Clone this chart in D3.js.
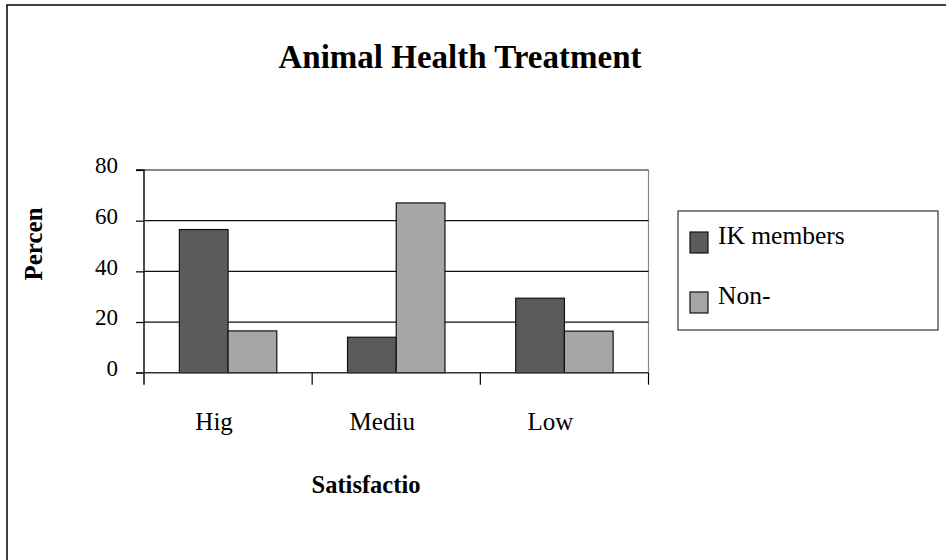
<!DOCTYPE html>
<html>
<head>
<meta charset="utf-8">
<script src="https://cdn.jsdelivr.net/npm/d3@7/dist/d3.min.js"></script>
<style>
  html, body { margin: 0; padding: 0; background: #fff; }
  svg { display: block; font-family: "Liberation Serif", "Times New Roman", serif; }
</style>
</head>
<body>
<svg id="chart" width="946" height="560"></svg>
<script>
// Satisfaction with animal health treatment, percent of respondents
const categories = ["Hig", "Mediu", "Low"];
const seriesNames = ["IK members", "Non-"];
const ikMembers = [56.5, 14, 29.4];
const nonMembers = [16.5, 67, 16.4];
const yTicks = [0, 20, 40, 60, 80];

const colors = ["#5b5b5b", "#a6a6a6"];
const series = [ikMembers, nonMembers];

const svg = d3.select("#chart");

// outer chart frame (right and bottom edges fall outside the view)
svg.append("rect")
  .attr("x", 7).attr("y", 5)
  .attr("width", 1000).attr("height", 600)
  .attr("fill", "#fff")
  .attr("stroke", "#000").attr("stroke-width", 1.5);

const plot = { left: 144, right: 648.5, top: 170, bottom: 372.7 };

const x = d3.scaleBand()
  .domain(categories)
  .range([plot.left, plot.right])
  .padding(0);

const xInner = d3.scaleBand()
  .domain(seriesNames)
  .range([0, x.bandwidth()])
  .paddingInner(0)
  .paddingOuter(0.726);

const y = d3.scaleLinear()
  .domain([0, 80])
  .range([plot.bottom, plot.top]);

// right edge of the plot area
svg.append("line")
  .attr("x1", plot.right).attr("x2", plot.right)
  .attr("y1", plot.top).attr("y2", plot.bottom)
  .attr("stroke", "#888").attr("stroke-width", 1.2);

// horizontal gridlines
svg.append("g")
  .selectAll("line")
  .data(yTicks.filter(d => d > 0))
  .join("line")
  .attr("x1", plot.left).attr("x2", plot.right)
  .attr("y1", d => y(d)).attr("y2", d => y(d))
  .attr("stroke", "#111").attr("stroke-width", 1.2);

// bars
const groups = svg.append("g")
  .selectAll("g")
  .data(categories)
  .join("g")
  .attr("transform", d => `translate(${x(d)},0)`);

groups.selectAll("rect")
  .data((c, i) => seriesNames.map((s, j) => ({ s, j, v: series[j][i] })))
  .join("rect")
  .attr("x", d => xInner(d.s))
  .attr("width", xInner.bandwidth())
  .attr("y", d => y(d.v))
  .attr("height", d => y(0) - y(d.v))
  .attr("fill", d => colors[d.j])
  .attr("stroke", "#111").attr("stroke-width", 1.2);

// y axis
const yAxis = d3.axisLeft(y)
  .tickValues(yTicks)
  .tickSize(8)
  .tickPadding(18)
  .tickFormat(d3.format("d"));

const gy = svg.append("g")
  .attr("transform", `translate(${plot.left},0)`)
  .call(yAxis);
gy.select(".domain").attr("stroke", "#000").attr("stroke-width", 1.4)
  .attr("d", `M-8,${plot.top}H0V${plot.bottom + 12}`);
gy.selectAll(".tick line").attr("stroke", "#000").attr("stroke-width", 1.2);
gy.selectAll(".tick text")
  .attr("font-family", "Liberation Serif, serif")
  .attr("font-size", 23)
  .attr("fill", "#000")
  .attr("dy", "0.12em");

// x axis baseline and category separators
svg.append("line")
  .attr("x1", plot.left - 8).attr("x2", plot.right)
  .attr("y1", plot.bottom).attr("y2", plot.bottom)
  .attr("stroke", "#333").attr("stroke-width", 1.4);

const separators = categories.map(c => x(c)).concat([plot.right]);
svg.append("g")
  .selectAll("line")
  .data(separators.slice(1))
  .join("line")
  .attr("x1", d => d).attr("x2", d => d)
  .attr("y1", plot.bottom).attr("y2", plot.bottom + 12)
  .attr("stroke", "#000").attr("stroke-width", 1.2);

// category labels
svg.append("g")
  .selectAll("text")
  .data(categories)
  .join("text")
  .attr("x", d => x(d) + x.bandwidth() / 2 - 14)
  .attr("y", 430)
  .attr("text-anchor", "middle")
  .attr("font-size", 25)
  .attr("fill", "#000")
  .text(d => d);

// titles
svg.append("text")
  .attr("x", 460).attr("y", 68)
  .attr("text-anchor", "middle")
  .attr("font-weight", "bold")
  .attr("font-size", 33)
  .attr("fill", "#000")
  .text("Animal Health Treatment");

svg.append("text")
  .attr("x", 366).attr("y", 493)
  .attr("text-anchor", "middle")
  .attr("font-weight", "bold")
  .attr("font-size", 24.5)
  .attr("fill", "#000")
  .text("Satisfactio");

svg.append("text")
  .attr("transform", "translate(42,244) rotate(-90)")
  .attr("text-anchor", "middle")
  .attr("font-weight", "bold")
  .attr("font-size", 25)
  .attr("fill", "#000")
  .text("Percen");

// legend
const legend = svg.append("g").attr("transform", "translate(678,211)");
legend.append("rect")
  .attr("width", 260).attr("height", 119)
  .attr("fill", "#fff")
  .attr("stroke", "#444").attr("stroke-width", 1.3);

const items = legend.selectAll("g.item")
  .data(seriesNames)
  .join("g")
  .attr("class", "item")
  .attr("transform", (d, i) => `translate(12,${21 + i * 60})`);

items.append("rect")
  .attr("width", 18).attr("height", 21)
  .attr("fill", (d, i) => colors[i])
  .attr("stroke", "#111").attr("stroke-width", 1.2);

items.append("text")
  .attr("x", 28).attr("y", 12)
  .attr("font-size", 25.5)
  .attr("fill", "#000")
  .text(d => d);
</script>
</body>
</html>
